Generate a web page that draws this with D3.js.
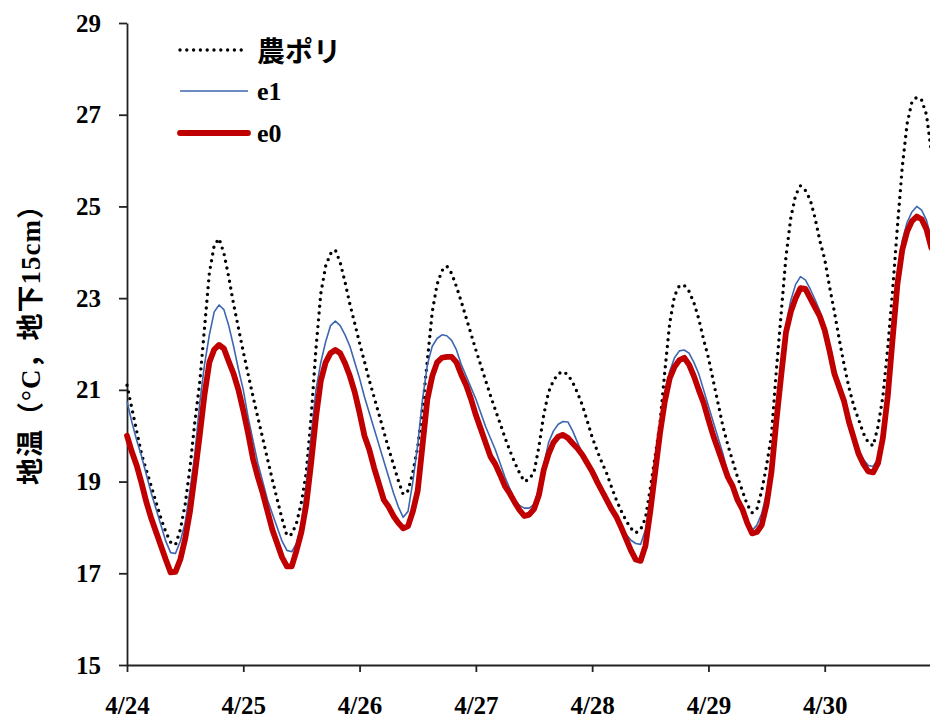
<!DOCTYPE html>
<html>
<head>
<meta charset="utf-8">
<script src="https://cdn.jsdelivr.net/npm/d3@7"></script>
<style>
  html, body { margin: 0; padding: 0; background: #fff; }
  svg { display: block; }
</style>
</head>
<body>
<svg id="chart" width="930" height="722"></svg>
<script>
// Hourly soil temperature at 15 cm depth, starting 4/24 0:00 (index = hour).
const dayLabels = ["4/24", "4/25", "4/26", "4/27", "4/28", "4/29", "4/30"];
const yTicks = [15, 17, 19, 21, 23, 25, 27, 29];
const seriesNames = ["農ポリ", "e1", "e0"];

const noPoli = [
  21.1, 20.6, 20.1, 19.6, 19.25, 18.9, 18.55, 18.2, 17.9, 17.68, 17.62, 17.95,
  18.5, 19.3, 20.3, 21.15, 22.35, 23.55, 24.15, 24.3, 23.98, 23.46, 22.87, 22.35,
  21.83, 21.34, 20.86, 20.4, 19.95, 19.49, 19.04, 18.61, 18.19, 17.82, 17.85, 18.1,
  18.55, 19.2, 20.4, 21.9, 23.1, 23.7, 23.97, 24.05, 23.78, 23.35, 22.87, 22.45,
  22.02, 21.62, 21.21, 20.84, 20.47, 20.09, 19.72, 19.37, 19.02, 18.72, 18.8, 19.2,
  19.75, 20.6, 21.65, 22.7, 23.3, 23.6, 23.7, 23.54, 23.25, 22.92, 22.57, 22.22,
  21.87, 21.54, 21.21, 20.88, 20.57, 20.27, 19.96, 19.68, 19.42, 19.19, 19.0, 19.05,
  19.2, 19.75, 20.45, 20.95, 21.2, 21.35, 21.4, 21.33, 21.16, 20.93, 20.66, 20.32,
  19.97, 19.68, 19.42, 19.18, 18.88, 18.6, 18.36, 18.15, 17.98, 17.88, 17.95, 18.2,
  18.85, 19.55, 20.27, 21.4, 22.45, 23.05, 23.27, 23.28, 23.15, 22.9, 22.55, 22.1,
  21.7, 21.2, 20.7, 20.2, 19.8, 19.45, 19.1, 18.8, 18.5, 18.32, 18.4, 18.8,
  19.35, 20.0, 21.4, 22.65, 23.9, 24.75, 25.25, 25.45, 25.35, 25.15, 24.75, 24.25,
  23.85, 23.25, 22.7, 22.1, 21.55, 21.05, 20.65, 20.35, 20.05, 19.85, 19.78, 20.2,
  20.85, 21.9, 23.15, 24.55, 25.85, 26.8, 27.28, 27.38, 27.32, 27.0, 26.2
];

const e1 = [
  20.75, 20.3, 19.9, 19.55, 19.15, 18.75, 18.4, 18.05, 17.7, 17.45, 17.43, 17.7,
  18.1, 18.8, 19.6, 20.7, 21.55, 22.2, 22.7, 22.85, 22.75, 22.4, 21.95, 21.45,
  21.0, 20.4, 19.9, 19.4, 19.0, 18.6, 18.3, 18.0, 17.7, 17.5, 17.47, 17.65,
  18.1, 18.95, 20.0, 21.0, 21.6, 22.05, 22.4, 22.5, 22.4, 22.2, 21.95, 21.6,
  21.25, 20.85, 20.5, 20.15, 19.8, 19.45, 19.1, 18.75, 18.45, 18.22, 18.35, 19.0,
  19.8, 20.8, 21.55, 21.95, 22.12, 22.2, 22.18, 22.08, 21.87, 21.55, 21.3, 21.05,
  20.8, 20.5, 20.2, 19.95, 19.7, 19.4, 19.1, 18.85, 18.62, 18.48, 18.42, 18.42,
  18.5, 18.85, 19.35, 19.85, 20.1, 20.25, 20.31, 20.3, 20.1, 19.85, 19.6, 19.4,
  19.28, 19.1, 18.85, 18.6, 18.4, 18.2, 18.0, 17.85, 17.72, 17.65, 17.63, 17.95,
  18.55, 19.35, 20.2, 20.85, 21.4, 21.7, 21.85, 21.87, 21.8, 21.6, 21.35, 21.0,
  20.65, 20.3, 19.95, 19.6, 19.2, 18.9, 18.6, 18.35, 18.1, 17.93, 18.05, 18.3,
  18.75, 19.5, 20.55, 21.55, 22.4, 22.95, 23.3, 23.47, 23.4, 23.2, 22.97, 22.72,
  22.4, 21.9, 21.5, 21.12, 20.8, 20.4, 20.0, 19.7, 19.48, 19.35, 19.33, 19.5,
  20.05, 21.0, 22.25, 23.45, 24.25, 24.65, 24.88, 25.0, 24.92, 24.7, 24.3
];

const e0 = [
  20.0, 19.65, 19.35, 18.97, 18.55, 18.2, 17.9, 17.6, 17.3, 17.02, 17.03, 17.3,
  17.75, 18.35, 19.15, 20.0, 20.9, 21.6, 21.88, 21.98, 21.9, 21.62, 21.35, 21.0,
  20.55, 20.05, 19.5, 19.1, 18.75, 18.35, 17.95, 17.65, 17.35, 17.15, 17.15, 17.5,
  17.9, 18.5, 19.4, 20.4, 21.2, 21.6, 21.8, 21.87, 21.8, 21.58, 21.3, 20.95,
  20.5, 20.0, 19.7, 19.3, 18.95, 18.6, 18.45, 18.25, 18.1, 17.98, 18.03, 18.35,
  18.8, 19.8, 20.8, 21.3, 21.6, 21.7, 21.72, 21.72, 21.6, 21.33, 21.1, 20.8,
  20.45, 20.15, 19.85, 19.55, 19.38, 19.15, 18.9, 18.74, 18.55, 18.38, 18.25, 18.28,
  18.4, 18.7, 19.25, 19.6, 19.85, 19.98, 20.02, 19.95, 19.83, 19.72, 19.58, 19.4,
  19.22, 19.0, 18.8, 18.6, 18.4, 18.23, 18.0, 17.75, 17.5, 17.3, 17.27, 17.6,
  18.35, 19.2, 20.05, 20.75, 21.25, 21.5, 21.65, 21.7, 21.55, 21.3, 21.0, 20.72,
  20.35, 20.0, 19.7, 19.4, 19.1, 18.9, 18.6, 18.4, 18.1, 17.87, 17.9, 18.05,
  18.5, 19.2, 20.3, 21.3, 22.25, 22.7, 23.0, 23.22, 23.2, 23.0, 22.8, 22.6,
  22.3, 21.85, 21.35, 21.05, 20.75, 20.3, 19.95, 19.6, 19.38, 19.22, 19.2, 19.4,
  19.95, 20.85, 22.1, 23.3, 24.05, 24.45, 24.68, 24.78, 24.72, 24.5, 24.1
];

const serif = "'Liberation Serif', 'Times New Roman', 'Noto Sans CJK JP', serif";
const gothic = "'Noto Sans CJK JP', 'Noto Sans', sans-serif";
const axisColor = "#222";

const svg = d3.select("#chart");
svg.append("rect").attr("width", 930).attr("height", 722).attr("fill", "#fff");

// The time axis runs 4/24 0:00 to 5/1 0:00; the last day is cut by the frame.
const x = d3.scaleLinear().domain([0, 24 * 7]).range([127, 941]);
const y = d3.scaleLinear().domain([15, 29]).range([665, 23]);

// Y axis
const yAxis = svg.append("g")
  .attr("transform", `translate(${x(0)},0)`)
  .call(d3.axisLeft(y).tickValues(yTicks).tickSize(8).tickPadding(18).tickSizeOuter(0));
yAxis.select(".domain").attr("stroke", axisColor).attr("stroke-width", 1.8);
yAxis.selectAll(".tick line").attr("stroke", axisColor).attr("stroke-width", 1.8);
yAxis.selectAll(".tick text")
  .attr("font-family", serif).attr("font-weight", "bold").attr("font-size", 25)
  .attr("fill", "#000");

// X axis
const dayTicks = dayLabels.map((d, i) => i * 24);
const xAxis = svg.append("g")
  .attr("transform", `translate(0,${y(15)})`)
  .call(d3.axisBottom(x).tickValues(dayTicks).tickFormat((d, i) => dayLabels[i])
    .tickSize(7).tickPadding(24).tickSizeOuter(0));
xAxis.select(".domain").attr("stroke", axisColor).attr("stroke-width", 1.8);
xAxis.selectAll(".tick line").attr("stroke", axisColor).attr("stroke-width", 1.8);
xAxis.selectAll(".tick text")
  .attr("font-family", serif).attr("font-weight", "bold").attr("font-size", 25)
  .attr("fill", "#000");

// Y axis title
svg.append("text")
  .attr("transform", `translate(31,${(y(15) + y(29)) / 2 - 6}) rotate(-90)`)
  .attr("text-anchor", "middle")
  .attr("dominant-baseline", "central")
  .attr("font-family", serif).attr("font-weight", "bold").attr("font-size", 27)
  .attr("letter-spacing", 1)
  .attr("fill", "#000")
  .text("地温（°C，地下15cm）");

// Series
const line = d3.line().x((d, i) => x(i)).y(d => y(d));
const styles = [
  { data: noPoli, stroke: "#000", width: 3.4, dash: "0 6.8", cap: "round" },
  { data: e1, stroke: "#3d66b0", width: 1.6, dash: null, cap: "butt" },
  { data: e0, stroke: "#c00000", width: 5.8, dash: null, cap: "round" }
];

const plot = svg.append("g");
styles.forEach(s => {
  plot.append("path")
    .datum(s.data)
    .attr("d", line)
    .attr("fill", "none")
    .attr("stroke", s.stroke)
    .attr("stroke-width", s.width)
    .attr("stroke-linejoin", "round")
    .attr("stroke-linecap", s.cap)
    .attr("stroke-dasharray", s.dash);
});

// Legend
const legendRows = [50, 91, 133];
const legend = svg.append("g");
styles.forEach((s, i) => {
  legend.append("line")
    .attr("x1", 180).attr("x2", 248)
    .attr("y1", legendRows[i]).attr("y2", legendRows[i])
    .attr("stroke", s.stroke)
    .attr("stroke-width", s.width)
    .attr("stroke-linecap", s.cap)
    .attr("stroke-dasharray", s.dash);
  legend.append("text")
    .attr("x", 257).attr("y", legendRows[i])
    .attr("dominant-baseline", "central")
    .attr("font-family", i === 0 ? gothic : serif)
    .attr("font-weight", "bold")
    .attr("font-size", i === 0 ? 28 : 26)
    .attr("fill", "#000")
    .text(seriesNames[i]);
});
</script>
</body>
</html>
